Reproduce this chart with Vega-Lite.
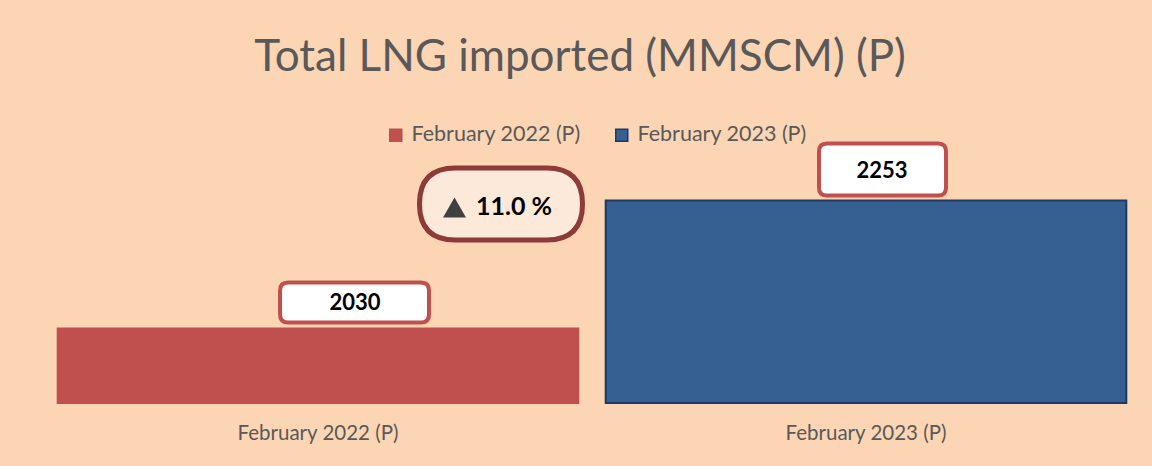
{
  "$schema": "https://vega.github.io/schema/vega-lite/v6.json",
  "width": 1096,
  "height": 258,
  "autosize": "none",
  "padding": {"left": 44, "top": 145, "right": 12, "bottom": 63},
  "background": "#FCD5B5",
  "title": {
    "text": "Total LNG imported (MMSCM) (P)",
    "font": "Lato",
    "fontSize": 44,
    "fontWeight": "normal",
    "color": "#595959",
    "anchor": "middle",
    "offset": 44,
    "dx": -12
  },
  "data": {
    "values": [
      {"period": "February 2022 (P)", "value": 2030},
      {"period": "February 2023 (P)", "value": 2253}
    ]
  },
  "encoding": {
    "x": {
      "field": "period",
      "type": "nominal",
      "sort": null,
      "scale": {"paddingInner": 0.05, "paddingOuter": 0.025},
      "axis": {
        "title": null,
        "labelAngle": 0,
        "domain": false,
        "ticks": false,
        "labelPadding": 20,
        "labelFont": "Lato",
        "labelFontSize": 20.5,
        "labelColor": "#595959"
      }
    },
    "y": {
      "field": "value",
      "type": "quantitative",
      "scale": {"domain": [1900, 2350], "zero": false, "nice": false},
      "axis": null
    }
  },
  "layer": [
    {
      "mark": {"type": "bar", "strokeWidth": 2},
      "encoding": {
        "y2": {"datum": 1900},
        "fill": {
          "field": "period",
          "type": "nominal",
          "scale": {"domain": ["February 2022 (P)", "February 2023 (P)"], "range": ["#C0504D", "#376092"]},
          "legend": {
            "title": null,
            "orient": "none",
            "direction": "horizontal",
            "legendX": 341,
            "legendY": -21,
            "symbolType": "square",
            "symbolSize": 144,
            "symbolStrokeWidth": 1.5,
            "labelFont": "Lato",
            "labelFontSize": 21.5,
            "labelColor": "#595959",
            "labelLimit": 400,
            "labelOffset": 5,
            "columnPadding": 30
          }
        },
        "stroke": {
          "field": "period",
          "type": "nominal",
          "scale": {"domain": ["February 2022 (P)", "February 2023 (P)"], "range": ["#C0504D", "#1F3864"]},
          "legend": null
        }
      }
    },
    {
      "transform": [{"filter": "datum.value == 2030"}],
      "mark": {
        "type": "point",
        "shape": "M-0.399,-0.614 L1.373,-0.614 Q1.48,-0.614 1.48,-0.507 L1.48,-0.187 Q1.48,-0.08 1.373,-0.08 L-0.399,-0.08 Q-0.506,-0.08 -0.506,-0.187 L-0.506,-0.507 Q-0.506,-0.614 -0.399,-0.614 Z",
        "size": 22500,
        "filled": true,
        "fill": "#FFFFFF",
        "stroke": "#C0504D",
        "strokeWidth": 4,
        "opacity": 1
      }
    },
    {
      "transform": [{"filter": "datum.value == 2253"}],
      "mark": {
        "type": "point",
        "shape": "M-0.52,-0.76 L0.96,-0.76 Q1.067,-0.76 1.067,-0.653 L1.067,-0.173 Q1.067,-0.067 0.96,-0.067 L-0.52,-0.067 Q-0.627,-0.067 -0.627,-0.173 L-0.627,-0.653 Q-0.627,-0.76 -0.52,-0.76 Z",
        "size": 22500,
        "filled": true,
        "fill": "#FFFFFF",
        "stroke": "#C0504D",
        "strokeWidth": 4,
        "opacity": 1
      }
    },
    {
      "transform": [{"filter": "datum.value == 2030"}],
      "mark": {"type": "text", "font": "Lato", "fontSize": 22, "fontWeight": "bold", "color": "#000000", "dx": 37, "dy": -25, "baseline": "middle", "align": "center"},
      "encoding": {"text": {"field": "value", "type": "quantitative", "format": "d"}}
    },
    {
      "transform": [{"filter": "datum.value == 2253"}],
      "mark": {"type": "text", "font": "Lato", "fontSize": 22, "fontWeight": "bold", "color": "#000000", "dx": 16, "dy": -30, "baseline": "middle", "align": "center"},
      "encoding": {"text": {"field": "value", "type": "quantitative", "format": "d"}}
    },
    {
      "transform": [{"filter": "datum.value == 2030"}],
      "mark": {
        "type": "point",
        "shape": "M1.833,-2.14 L3.047,-2.14 Q3.527,-2.14 3.527,-1.66 Q3.527,-1.18 3.047,-1.18 L1.833,-1.18 Q1.353,-1.18 1.353,-1.66 Q1.353,-2.14 1.833,-2.14 Z",
        "size": 22500,
        "filled": true,
        "fill": "#FDE9D9",
        "stroke": "#8E3A37",
        "strokeWidth": 5,
        "opacity": 1
      }
    },
    {
      "transform": [{"filter": "datum.value == 2030"}],
      "mark": {
        "type": "point",
        "shape": "M1.82,-1.747 L1.973,-1.48 L1.667,-1.48 Z",
        "size": 22500,
        "filled": true,
        "fill": "#404040",
        "strokeWidth": 0,
        "opacity": 1
      }
    },
    {
      "transform": [{"filter": "datum.value == 2030"}],
      "mark": {"type": "text", "text": "11.0 %", "font": "Lato", "fontSize": 25, "fontWeight": "bold", "color": "#000000", "dx": 196, "dy": -121, "baseline": "middle", "align": "center"}
    }
  ],
  "config": {
    "view": {"stroke": null}
  }
}
